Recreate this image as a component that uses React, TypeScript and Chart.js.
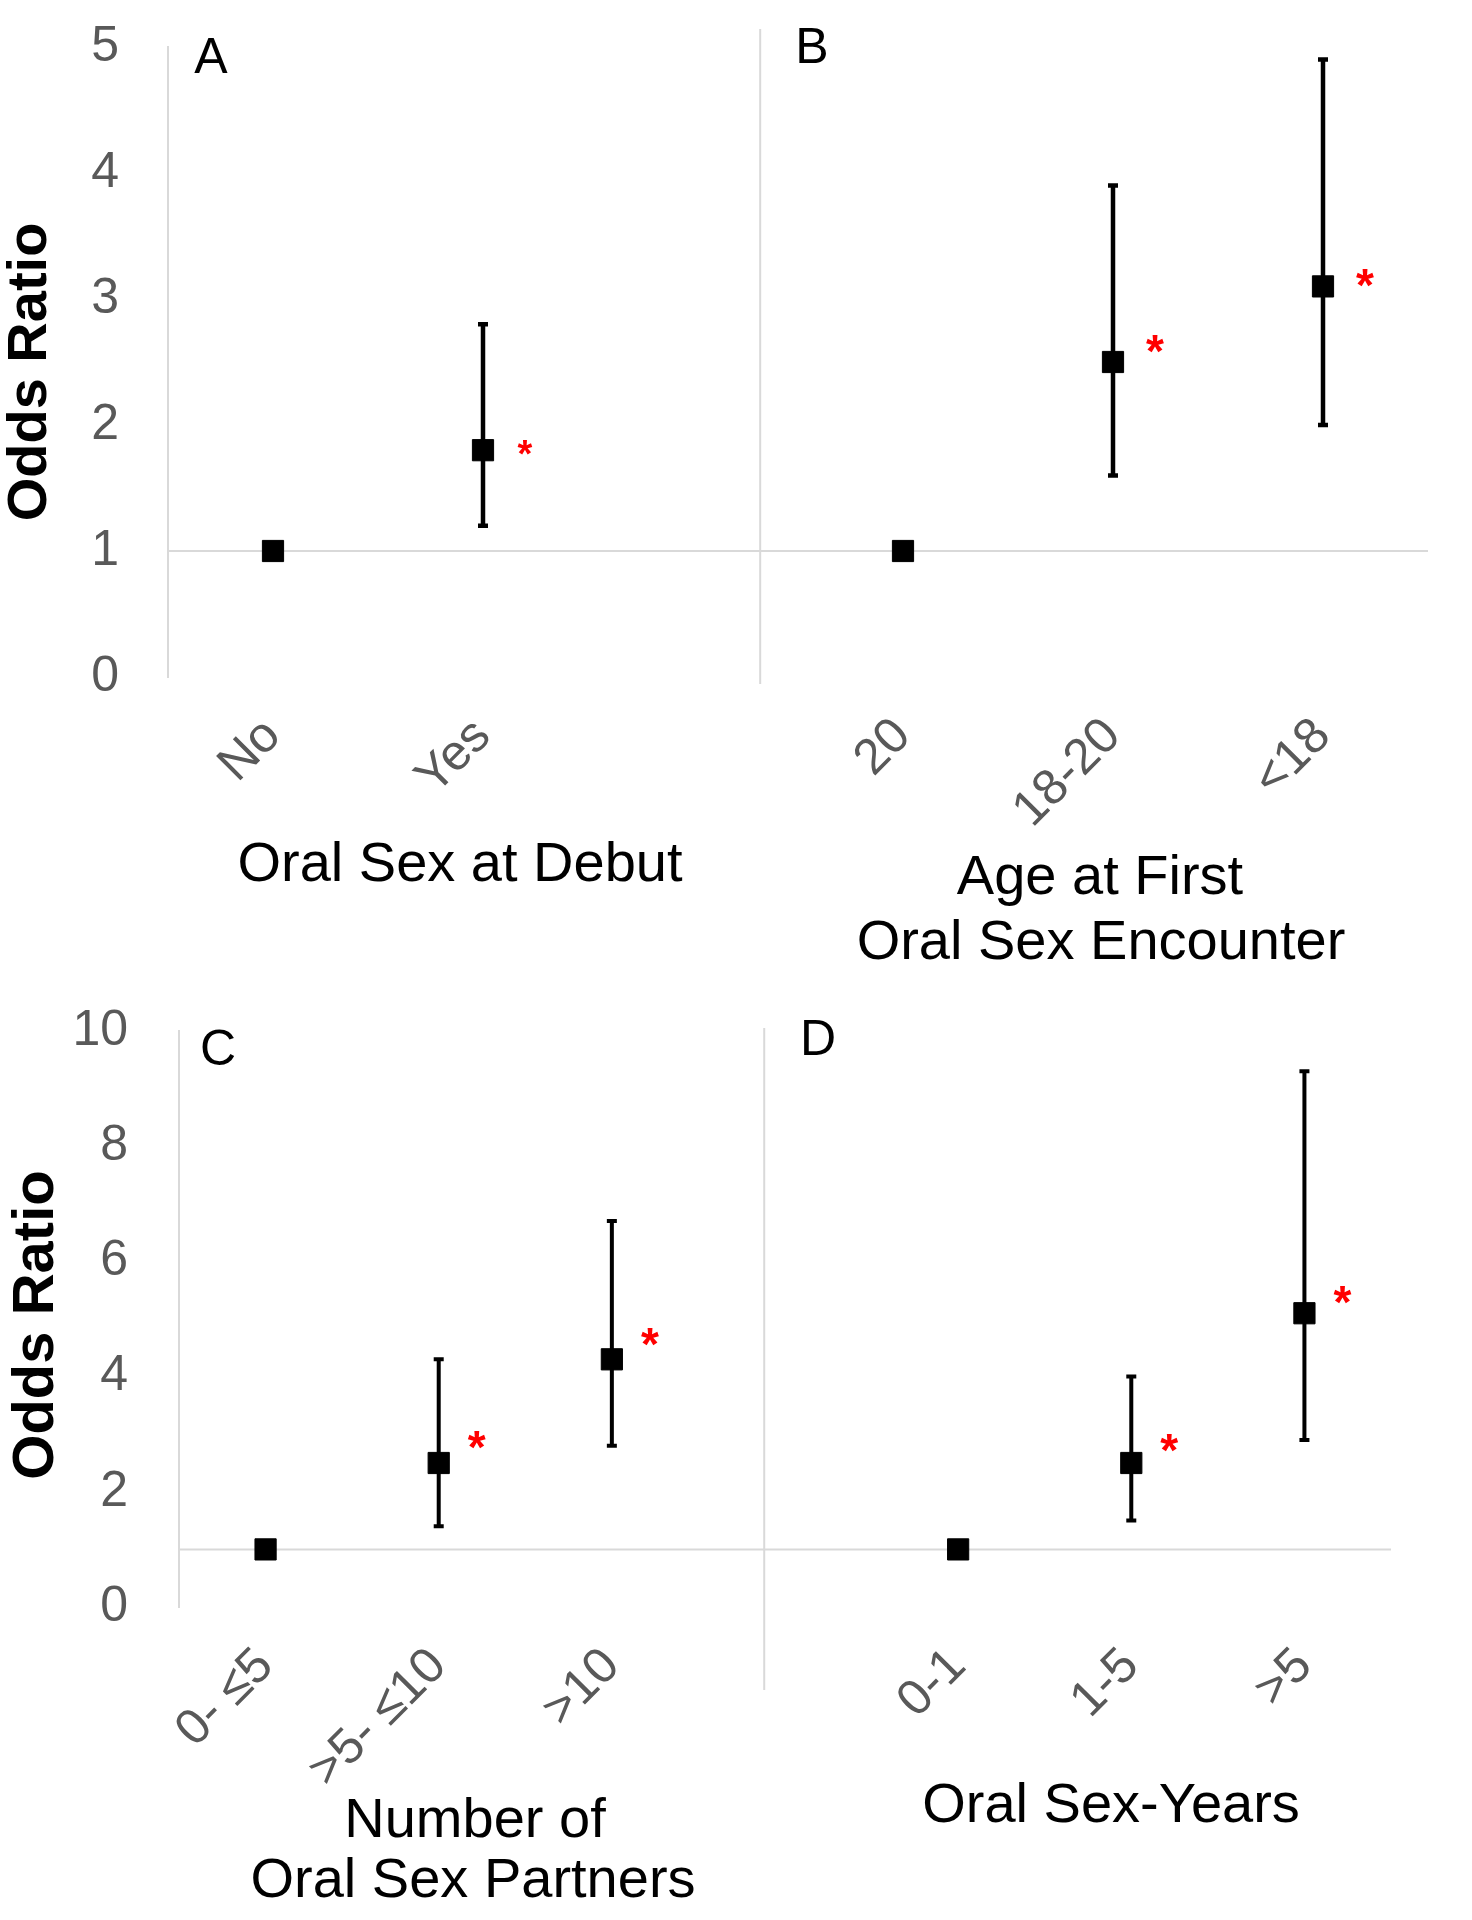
import React, { useEffect, useRef } from 'react';
import { Chart, registerables } from 'chart.js';

Chart.register(...registerables);

const FONT = '"Liberation Sans", Arial, Helvetica, sans-serif';

// ---------- Panel A: Oral Sex at Debut ----------
const debutCategories = ['No', 'Yes'];
const debutOR = [1, 1.8];
const debutLower = [null, 1.2];
const debutUpper = [null, 2.8];
const debutStar = [null, 1.84];

// ---------- Panel B: Age at First Oral Sex Encounter ----------
const ageCategories = ['20', '18-20', '<18'];
const ageOR = [1, 2.5, 3.1];
const ageLower = [null, 1.6, 2.0];
const ageUpper = [null, 3.9, 4.9];
const ageStar = [null, 2.67, 3.19];

// ---------- Panel C: Number of Oral Sex Partners ----------
const partnerCategories = ['0- \u22645', '>5- \u226410', '>10'];
const partnerOR = [1, 2.5, 4.3];
const partnerLower = [null, 1.4, 2.8];
const partnerUpper = [null, 4.3, 6.7];
const partnerStar = [null, 2.96, 4.75];

// ---------- Panel D: Oral Sex-Years ----------
const yearsCategories = ['0-1', '1-5', '>5'];
const yearsOR = [1, 2.5, 5.1];
const yearsLower = [null, 1.5, 2.9];
const yearsUpper = [null, 4.0, 9.3];
const yearsStar = [null, 2.9, 5.47];

// ---------- axes ----------
const topYTicks = [0, 1, 2, 3, 4, 5];
const bottomYTicks = [0, 2, 4, 6, 8, 10];
const referenceOR = 1;
const yTitle = 'Odds Ratio';

function joinPanels<T>(a: T[], b: T[], gap: T): T[] {
  return [...a, gap, ...b];
}

type Decor = {
  lower: (number | null)[];
  upper: (number | null)[];
  stars: (number | null)[];
  sepAt: number;
  sepTop: number;
  sepBottom: number;
  barWidth: number;
  capHalf: number;
  starSize: number[];
  starDx: number;
  yTitleX: number;
  yTitleY: number;
  yTitleSize: number;
  titles: { text: string; x: number; y: number }[];
  letters: { text: string; x: number; y: number }[];
};

function makeDecor(d: Decor) {
  return {
    id: 'panelDecor',
    beforeDatasetsDraw(chart: any) {
      const { ctx, chartArea, scales } = chart;
      const x = scales.x;
      const y = scales.y;
      ctx.save();
      ctx.strokeStyle = '#d9d9d9';
      ctx.lineWidth = 2;
      const yr = y.getPixelForValue(referenceOR);
      ctx.beginPath();
      ctx.moveTo(chartArea.left, yr);
      ctx.lineTo(chartArea.right, yr);
      ctx.stroke();
      const xs = x.getPixelForValue(d.sepAt);
      ctx.beginPath();
      ctx.moveTo(xs, chartArea.top - d.sepTop);
      ctx.lineTo(xs, chartArea.bottom + d.sepBottom);
      ctx.stroke();
      ctx.strokeStyle = '#000';
      ctx.lineWidth = d.barWidth;
      d.lower.forEach((lo, i) => {
        const hi = d.upper[i];
        if (lo == null || hi == null) return;
        const px = x.getPixelForValue(i);
        const y1 = y.getPixelForValue(lo);
        const y2 = y.getPixelForValue(hi);
        ctx.beginPath();
        ctx.moveTo(px, y1);
        ctx.lineTo(px, y2);
        ctx.moveTo(px - d.capHalf, y1);
        ctx.lineTo(px + d.capHalf, y1);
        ctx.moveTo(px - d.capHalf, y2);
        ctx.lineTo(px + d.capHalf, y2);
        ctx.stroke();
      });
      ctx.restore();
    },
    afterDatasetsDraw(chart: any) {
      const { ctx, scales } = chart;
      const x = scales.x;
      const y = scales.y;
      ctx.save();
      ctx.fillStyle = '#ff0000';
      ctx.textAlign = 'center';
      ctx.textBaseline = 'alphabetic';
      d.stars.forEach((s, i) => {
        if (s == null) return;
        const size = d.starSize[i];
        ctx.font = `bold ${size}px ${FONT}`;
        const px = x.getPixelForValue(i) + d.starDx;
        const py = y.getPixelForValue(s) + size * 0.57;
        ctx.fillText('*', px, py);
      });
      ctx.restore();
    },
    afterDraw(chart: any) {
      const { ctx } = chart;
      ctx.save();
      ctx.fillStyle = '#000';
      ctx.font = `bold ${d.yTitleSize}px ${FONT}`;
      ctx.textAlign = 'center';
      ctx.textBaseline = 'alphabetic';
      ctx.translate(d.yTitleX, d.yTitleY);
      ctx.rotate(-Math.PI / 2);
      ctx.fillText(yTitle, 0, 0);
      ctx.restore();

      ctx.save();
      ctx.fillStyle = '#000';
      ctx.textAlign = 'center';
      ctx.textBaseline = 'alphabetic';
      ctx.font = `56px ${FONT}`;
      d.titles.forEach((t) => ctx.fillText(t.text, t.x, t.y));
      ctx.font = `50px ${FONT}`;
      d.letters.forEach((t) => ctx.fillText(t.text, t.x, t.y));
      ctx.restore();
    },
  };
}

function buildChart(
  canvas: HTMLCanvasElement,
  labels: string[],
  values: (number | null)[],
  yMax: number,
  yTicks: number[],
  geom: { left: number; top: number; right: number; xHeight: number; tickPad: number; xPad: number },
  decor: Decor
) {
  return new Chart(canvas, {
    type: 'line',
    data: {
      labels,
      datasets: [
        {
          data: values,
          showLine: false,
          pointStyle: 'rect',
          pointRadius: 15,
          pointHoverRadius: 15,
          pointBackgroundColor: '#000',
          pointBorderColor: '#000',
          pointBorderWidth: 1,
          spanGaps: false,
        },
      ],
    },
    options: {
      animation: false,
      responsive: false,
      events: [],
      layout: { autoPadding: false, padding: { top: geom.top, right: geom.right, left: 0, bottom: 0 } },
      plugins: { legend: { display: false }, tooltip: { enabled: false } },
      scales: {
        x: {
          type: 'category',
          offset: true,
          grid: { display: false, drawTicks: false },
          border: { display: false },
          ticks: {
            color: '#595959',
            font: { family: FONT, size: 50 },
            minRotation: 45,
            maxRotation: 45,
            autoSkip: false,
            padding: geom.xPad,
          },
          afterFit: (s: any) => {
            s.height = geom.xHeight;
            s.paddingLeft = 0;
            s.paddingRight = 0;
          },
        },
        y: {
          min: 0,
          max: yMax,
          grid: { display: false, drawTicks: false },
          border: { display: true, color: '#d9d9d9', width: 2 },
          ticks: {
            color: '#595959',
            font: { family: FONT, size: 50 },
            padding: geom.tickPad,
          },
          afterBuildTicks: (s: any) => {
            s.ticks = yTicks.map((v) => ({ value: v }));
          },
          afterFit: (s: any) => {
            s.width = geom.left;
            s.paddingTop = 0;
            s.paddingBottom = 0;
          },
        },
      },
    } as any,
    plugins: [makeDecor(decor)],
  });
}

export default function App() {
  const topRef = useRef<HTMLCanvasElement>(null);
  const bottomRef = useRef<HTMLCanvasElement>(null);

  useEffect(() => {
    const topLabels = joinPanels(debutCategories, ageCategories, '');
    const topValues = joinPanels<number | null>(debutOR, ageOR, null);
    const topLower = joinPanels<number | null>(debutLower, ageLower, null);
    const topUpper = joinPanels<number | null>(debutUpper, ageUpper, null);
    const topStars = joinPanels<number | null>(debutStar, ageStar, null);

    const botLabels = joinPanels(partnerCategories, yearsCategories, '');
    const botValues = joinPanels<number | null>(partnerOR, yearsOR, null);
    const botLower = joinPanels<number | null>(partnerLower, yearsLower, null);
    const botUpper = joinPanels<number | null>(partnerUpper, yearsUpper, null);
    const botStars = joinPanels<number | null>(partnerStar, yearsStar, null);

    const top = buildChart(
      topRef.current!,
      topLabels,
      topValues,
      5,
      topYTicks,
      { left: 168, top: 47, right: 44, xHeight: 303, tickPad: 49, xPad: 30 },
      {
        lower: topLower,
        upper: topUpper,
        stars: topStars,
        sepAt: 2.32,
        sepTop: 18,
        sepBottom: 7,
        barWidth: 4.5,
        capHalf: 5,
        starSize: [46, 38, 46, 46, 46, 46],
        starDx: 42,
        yTitleX: 46,
        yTitleY: 372,
        yTitleSize: 56,
        titles: [
          { text: 'Oral Sex at Debut', x: 460, y: 881 },
          { text: 'Age at First', x: 1100, y: 894 },
          { text: 'Oral Sex Encounter', x: 1101, y: 959 },
        ],
        letters: [
          { text: 'A', x: 211, y: 73 },
          { text: 'B', x: 812, y: 63 },
        ],
      }
    );

    const bottom = buildChart(
      bottomRef.current!,
      botLabels,
      botValues,
      10,
      bottomYTicks,
      { left: 179, top: 51, right: 81, xHeight: 313, tickPad: 51, xPad: 30 },
      {
        lower: botLower,
        upper: botUpper,
        stars: botStars,
        sepAt: 2.88,
        sepTop: 3,
        sepBottom: 83,
        barWidth: 4,
        capHalf: 5,
        starSize: [46, 46, 46, 46, 46, 46, 46],
        starDx: 38,
        yTitleX: 53,
        yTitleY: 345,
        yTitleSize: 58,
        titles: [
          { text: 'Number of', x: 475, y: 857 },
          { text: 'Oral Sex Partners', x: 473, y: 917 },
          { text: 'Oral Sex-Years', x: 1111, y: 842 },
        ],
        letters: [
          { text: 'C', x: 218, y: 85 },
          { text: 'D', x: 818, y: 75 },
        ],
      }
    );

    return () => {
      top.destroy();
      bottom.destroy();
    };
  }, []);

  return (
    <div style={{ position: 'absolute', left: 0, top: 0, width: 1472, height: 1920, background: '#fff' }}>
      <canvas ref={topRef} width={1472} height={980} style={{ position: 'absolute', left: 0, top: 0, display: 'block' }} />
      <canvas ref={bottomRef} width={1472} height={940} style={{ position: 'absolute', left: 0, top: 980, display: 'block' }} />
    </div>
  );
}
